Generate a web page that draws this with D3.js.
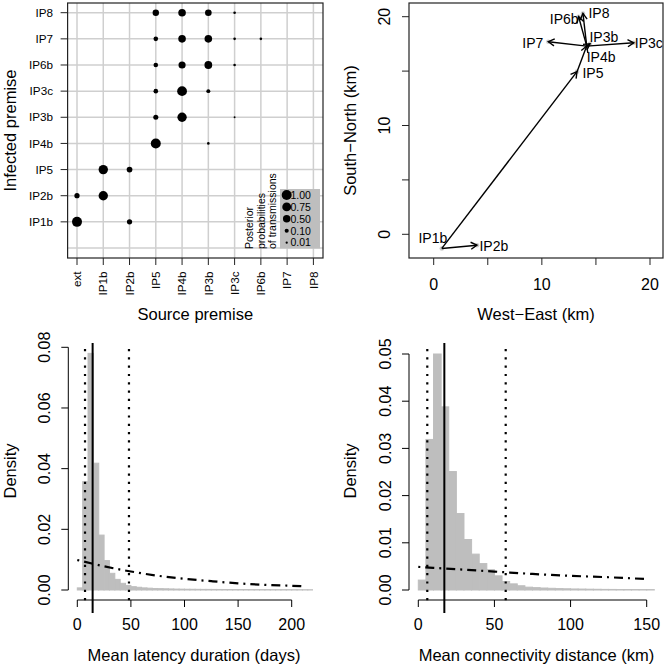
<!DOCTYPE html>
<html><head><meta charset="utf-8">
<script src="https://cdn.jsdelivr.net/npm/d3@7"></script>
<style>
html,body{margin:0;padding:0;background:#fff;}
svg{display:block;font-family:"Liberation Sans",Arial,Helvetica,sans-serif;}
</style></head>
<body>
<script>
// ---------- Panel A: transmission matrix ----------
const sourceCats = ["ext","IP1b","IP2b","IP5","IP4b","IP3b","IP3c","IP6b","IP7","IP8"];
const infectedCats = ["","IP1b","IP2b","IP5","IP4b","IP3b","IP3c","IP6b","IP7","IP8"];
// [infected, source, posterior probability]
const transmissions = [
  ["IP1b","ext",1.0],["IP1b","IP2b",0.2],
  ["IP2b","ext",0.2],["IP2b","IP1b",0.86],
  ["IP5","IP1b",0.86],["IP5","IP2b",0.25],
  ["IP4b","IP5",1.0],["IP4b","IP3b",0.02],
  ["IP3b","IP5",0.18],["IP3b","IP4b",0.85],["IP3b","IP3c",0.004],
  ["IP3c","IP5",0.14],["IP3c","IP4b",0.95],["IP3c","IP3b",0.09],
  ["IP6b","IP5",0.14],["IP6b","IP4b",0.45],["IP6b","IP3b",0.55],["IP6b","IP3c",0.02],
  ["IP7","IP5",0.14],["IP7","IP4b",0.52],["IP7","IP3b",0.52],["IP7","IP3c",0.02],["IP7","IP6b",0.02],
  ["IP8","IP5",0.34],["IP8","IP4b",0.52],["IP8","IP3b",0.37],["IP8","IP3c",0.02]
];
const legendProbs = [1.00,0.75,0.50,0.10,0.01];
const legendTitle = ["Posterior","probabilities","of transmissions"];

// ---------- Panel B: map of premises ----------
const premises = ["IP1b","IP2b","IP5","IP4b","IP3b","IP3c","IP7","IP6b","IP8"];
const eastKm  = [0.75, 4.0, 13.25, 14.15, 14.45, 18.5, 10.6, 13.4, 13.8];
const northKm = [-1.3, -1.0, 14.95, 17.3, 17.5, 17.6, 17.7, 20.0, 20.3];
const transmissionArrows = [
  ["IP1b","IP2b"],["IP1b","IP5"],["IP5","IP4b"],["IP4b","IP3b"],
  ["IP4b","IP3c"],["IP4b","IP7"],["IP4b","IP6b"],["IP4b","IP8"]
];
const mapTicks = [0,5,10,15,20];
const mapTickLabels = [0,10,20];

// ---------- Panel C: mean latency duration ----------
const latencyBinWidth = 5;
const latencyDensity = [0.0007,0.0357,0.078,0.0418,0.0181,0.0097,0.0055,0.0035,0.0022,0.0015,
  0.0011,0.0009,0.0007,0.0006,0.0005,0.00045,0.0004,0.00035,0.0003,0.00028,
  0.00025,0.00024,0.00022,0.0002,0.0002,0.00019,0.00018,0.00017,0.00016,0.00015,
  0.00015,0.00014,0.00013,0.00013,0.00012,0.00012,0.00011,0.00011,0.0001,0.0001,
  0.0001,0.00009,0.00009,0.00008];
const latencyPriorX = [0,25,50,75,100,125,150,175,200,213];
const latencyPriorY = [0.0099,0.0078,0.0061,0.0047,0.0037,0.0029,0.0022,0.0017,0.0014,0.0012];
const latencyMedian = 14.3;
const latencyCI = [7.2,48.2];
const latencyXTicks = [0,50,100,150,200];
const latencyYTicks = [0,0.02,0.04,0.06,0.08];

// ---------- Panel D: mean connectivity distance ----------
const connBinWidth = 5;
const connDensity = [0.0021,0.0319,0.050,0.0388,0.0251,0.0162,0.0107,0.0076,0.0056,0.0043,
  0.0030,0.0018,0.0013,0.0009,0.0006,0.0005,0.00042,0.00036,0.0003,0.00026,
  0.00022,0.0002,0.00017,0.00015,0.00013,0.00012,0.0001,0.0001,0.00009,0.00008,0.00008];
const connPriorX = [0,25,50,75,100,125,151];
const connPriorY = [0.0049,0.0044,0.0039,0.0034,0.0030,0.0027,0.0023];
const connMedian = 17.1;
const connCI = [5.9,57.4];
const connXTicks = [0,50,100,150];
const connYTicks = [0,0.01,0.02,0.03,0.04,0.05];

// =====================================================
const W = 667, H = 669;
const FONT_TICK = 16, FONT_TITLE = 16.5;
const svg = d3.select("body").append("svg").attr("width",W).attr("height",H);
svg.append("rect").attr("width",W).attr("height",H).attr("fill","#fff");

function fmt2(v){ return v.toFixed(2); }

// ---------------- Panel A ----------------
(function(){
  const g = svg.append("g");
  const box = {x0:67.6, x1:323, y0:3, y1:258};
  const x = d3.scaleLinear().domain([0, sourceCats.length-1]).range([77, 313.4]);
  const y = d3.scaleLinear().domain([0, infectedCats.length-1]).range([248, 12.7]);
  const r = p => 0.7 + 4.3*Math.sqrt(p);

  g.selectAll(".vg").data(sourceCats).join("line")
    .attr("x1",(d,i)=>x(i)).attr("x2",(d,i)=>x(i)).attr("y1",box.y0).attr("y2",box.y1)
    .attr("stroke","#cfcfcf").attr("stroke-width",1.5);
  g.selectAll(".hg").data(infectedCats).join("line")
    .attr("y1",(d,i)=>y(i)).attr("y2",(d,i)=>y(i)).attr("x1",box.x0).attr("x2",box.x1)
    .attr("stroke","#cfcfcf").attr("stroke-width",1.5);

  const lg = g.append("g");
  lg.append("rect").attr("x",280).attr("y",189).attr("width",40).attr("height",59.5).attr("fill","#bebebe");
  const ly = d3.scaleLinear().domain([0, legendProbs.length-1]).range([195, 242.7]);
  lg.selectAll("circle").data(legendProbs).join("circle")
    .attr("cx",286.7).attr("cy",(d,i)=>ly(i)).attr("r",d=>r(d)).attr("fill","#000");
  lg.selectAll("text.lv").data(legendProbs).join("text")
    .attr("x",290.5).attr("y",(d,i)=>ly(i)).attr("dy","0.36em")
    .attr("font-size",10.5).text(d=>fmt2(d));
  lg.selectAll("text.lt").data(legendTitle).join("text")
    .attr("transform",(d,i)=>`translate(${253+i*11.5},249) rotate(-90)`)
    .attr("font-size",10.5).attr("text-anchor","start").text(d=>d);

  g.selectAll(".pt").data(transmissions).join("circle")
    .attr("cx",d=>x(sourceCats.indexOf(d[1])))
    .attr("cy",d=>y(infectedCats.indexOf(d[0])))
    .attr("r",d=>r(d[2])).attr("fill","#000");

  g.append("rect").attr("x",box.x0).attr("y",box.y0).attr("width",box.x1-box.x0).attr("height",box.y1-box.y0)
    .attr("fill","none").attr("stroke","#222").attr("stroke-width",1.2);

  const ylab = infectedCats.map((d,i)=>({d,i})).filter(o=>o.d!=="");
  g.selectAll(".yt").data(ylab).join("line")
    .attr("x1",box.x0).attr("x2",box.x0-7).attr("y1",o=>y(o.i)).attr("y2",o=>y(o.i))
    .attr("stroke","#222").attr("stroke-width",1);
  g.selectAll(".yl").data(ylab).join("text")
    .attr("x",53).attr("y",o=>y(o.i)).attr("dy","0.36em").attr("text-anchor","end")
    .attr("font-size",11.7).text(o=>o.d);
  g.selectAll(".xt").data(sourceCats).join("line")
    .attr("x1",(d,i)=>x(i)).attr("x2",(d,i)=>x(i)).attr("y1",box.y1).attr("y2",box.y1+7)
    .attr("stroke","#222").attr("stroke-width",1);
  g.selectAll(".xl").data(sourceCats).join("text")
    .attr("transform",(d,i)=>`translate(${x(i)},271.5) rotate(-90)`)
    .attr("dy","0.36em").attr("text-anchor","end").attr("font-size",11.7).text(d=>d);

  g.append("text").attr("x",(box.x0+box.x1)/2).attr("y",320).attr("text-anchor","middle")
    .attr("font-size",FONT_TITLE).text("Source premise");
  g.append("text").attr("transform",`translate(15.5,${(box.y0+box.y1)/2}) rotate(-90)`)
    .attr("text-anchor","middle").attr("font-size",FONT_TITLE).text("Infected premise");
})();

// ---------------- Panel B ----------------
(function(){
  const g = svg.append("g");
  const box = {x0:409, x1:663, y0:3, y1:258};
  const x = d3.scaleLinear().domain([0,20]).range([433.7,650]);
  const y = d3.scaleLinear().domain([0,20]).range([234.3,16.7]);
  const pos = {};
  premises.forEach((p,i)=>pos[p]=[x(eastKm[i]), y(northKm[i])]);
  const labelLayout = {
    IP1b:{dx:5.5,dy:-10,a:"end"}, IP2b:{dx:2.5,dy:0.5,a:"start"}, IP5:{dx:5.5,dy:1,a:"start"},
    IP4b:{dx:0,dy:10.5,a:"start"}, IP3b:{dx:-0.5,dy:-7,a:"start"}, IP3c:{dx:1,dy:0,a:"start"},
    IP7:{dx:-5,dy:1,a:"end"}, IP6b:{dx:0,dy:2.5,a:"end"}, IP8:{dx:5.5,dy:0,a:"start"}
  };

  g.append("rect").attr("x",box.x0).attr("y",box.y0).attr("width",box.x1-box.x0).attr("height",box.y1-box.y0)
    .attr("fill","none").attr("stroke","#222").attr("stroke-width",1.2);
  g.selectAll(".xt").data(mapTicks).join("line")
    .attr("x1",d=>x(d)).attr("x2",d=>x(d)).attr("y1",box.y1).attr("y2",box.y1+7).attr("stroke","#222");
  g.selectAll(".xl").data(mapTickLabels).join("text")
    .attr("x",d=>x(d)).attr("y",290).attr("text-anchor","middle").attr("font-size",FONT_TICK).text(d=>d);
  g.selectAll(".yt").data(mapTicks).join("line")
    .attr("y1",d=>y(d)).attr("y2",d=>y(d)).attr("x1",box.x0).attr("x2",box.x0-7).attr("stroke","#222");
  g.selectAll(".yl").data(mapTickLabels).join("text")
    .attr("transform",d=>`translate(390,${y(d)}) rotate(-90)`).attr("text-anchor","middle")
    .attr("font-size",FONT_TICK).text(d=>d);

  g.selectAll(".gp").data(premises).join("circle")
    .attr("cx",p=>pos[p][0]).attr("cy",p=>pos[p][1]).attr("r",2.3).attr("fill","#cccccc");

  const L = 7, ang = Math.PI/6;
  transmissionArrows.forEach(([a,b])=>{
    const [x1,y1]=pos[a],[x2,y2]=pos[b];
    g.append("line").attr("x1",x1).attr("y1",y1).attr("x2",x2).attr("y2",y2)
      .attr("stroke","#000").attr("stroke-width",1.4);
    const th = Math.atan2(y2-y1,x2-x1);
    const p1=[x2-L*Math.cos(th-ang), y2-L*Math.sin(th-ang)];
    const p2=[x2-L*Math.cos(th+ang), y2-L*Math.sin(th+ang)];
    g.append("path").attr("d",`M${p1[0]},${p1[1]}L${x2},${y2}L${p2[0]},${p2[1]}`)
      .attr("fill","none").attr("stroke","#000").attr("stroke-width",1.4);
  });

  g.selectAll(".lab").data(premises).join("text")
    .attr("x",p=>pos[p][0]+labelLayout[p].dx).attr("y",p=>pos[p][1]+labelLayout[p].dy)
    .attr("dy","0.36em").attr("text-anchor",p=>labelLayout[p].a).attr("font-size",14).text(p=>p);

  g.append("text").attr("x",(box.x0+box.x1)/2).attr("y",320).attr("text-anchor","middle")
    .attr("font-size",FONT_TITLE).text("West\u2212East (km)");
  g.append("text").attr("transform",`translate(356,${(box.y0+box.y1)/2}) rotate(-90)`)
    .attr("text-anchor","middle").attr("font-size",FONT_TITLE).text("South\u2212North (km)");
})();

// ---------------- Histogram panels ----------------
function histPanel(opt){
  const g = svg.append("g");
  const x = d3.scaleLinear().domain([0,opt.xMax]).range(opt.xr);
  const y = d3.scaleLinear().domain([0,opt.yMax]).range([590, opt.yTop]);
  const yAxisX = opt.yAxisX, xAxisY = 600;
  const clipId = "clip"+opt.id;
  g.append("clipPath").attr("id",clipId).append("rect")
    .attr("x",yAxisX).attr("y",340).attr("width",opt.clipRight-yAxisX).attr("height",280);
  const pg = g.append("g").attr("clip-path",`url(#${clipId})`);
  pg.selectAll("rect.bar").data(opt.density).join("rect")
    .attr("x",(d,i)=>x(i*opt.bw)).attr("width",(d,i)=>x((i+1)*opt.bw)-x(i*opt.bw))
    .attr("y",d=>y(d)).attr("height",d=>y(0)-y(d))
    .attr("fill","#bebebe").attr("stroke","#bebebe").attr("stroke-width",1);
  pg.append("path").datum(opt.priorX.map((v,i)=>[v,opt.priorY[i]]))
    .attr("d",d3.line().x(d=>x(d[0])).y(d=>y(d[1])).curve(d3.curveMonotoneX))
    .attr("fill","none").attr("stroke","#000").attr("stroke-width",2.2)
    .attr("stroke-dasharray","2,5,9,5");
  g.selectAll("line.ci").data(opt.ci).join("line")
    .attr("x1",d=>x(d)).attr("x2",d=>x(d)).attr("y1",349).attr("y2",601)
    .attr("stroke","#000").attr("stroke-width",2.2).attr("stroke-dasharray","2.2,6.1");
  g.append("line").attr("x1",x(opt.median)).attr("x2",x(opt.median)).attr("y1",343).attr("y2",613)
    .attr("stroke","#000").attr("stroke-width",2);

  g.append("line").attr("x1",x(opt.xTicks[0])).attr("x2",x(opt.xTicks[opt.xTicks.length-1]))
    .attr("y1",xAxisY).attr("y2",xAxisY).attr("stroke","#000");
  g.selectAll(".xt").data(opt.xTicks).join("line")
    .attr("x1",d=>x(d)).attr("x2",d=>x(d)).attr("y1",xAxisY).attr("y2",xAxisY+7).attr("stroke","#000");
  g.selectAll(".xl").data(opt.xTicks).join("text")
    .attr("x",d=>x(d)).attr("y",630).attr("text-anchor","middle").attr("font-size",FONT_TICK).text(d=>d);
  g.append("line").attr("x1",yAxisX).attr("x2",yAxisX)
    .attr("y1",y(opt.yTicks[0])).attr("y2",y(opt.yTicks[opt.yTicks.length-1])).attr("stroke","#000");
  g.selectAll(".yt").data(opt.yTicks).join("line")
    .attr("x1",yAxisX).attr("x2",yAxisX-7).attr("y1",d=>y(d)).attr("y2",d=>y(d)).attr("stroke","#000");
  g.selectAll(".yl").data(opt.yTicks).join("text")
    .attr("transform",d=>`translate(${yAxisX-18.3},${y(d)}) rotate(-90)`).attr("text-anchor","middle")
    .attr("font-size",FONT_TICK).text(d=>d.toFixed(2));
  g.append("text").attr("x",opt.titleX).attr("y",661).attr("text-anchor","middle")
    .attr("font-size",FONT_TITLE).text(opt.xTitle);
  g.append("text").attr("transform",`translate(${yAxisX-52.8},471) rotate(-90)`)
    .attr("text-anchor","middle").attr("font-size",FONT_TITLE).text("Density");
}

histPanel({id:"c", xMax:200, xr:[77.3,291.7], yMax:0.08, yTop:347.3, yAxisX:68.3, clipRight:313,
  bw:latencyBinWidth, density:latencyDensity, priorX:latencyPriorX, priorY:latencyPriorY,
  median:latencyMedian, ci:latencyCI, xTicks:latencyXTicks, yTicks:latencyYTicks,
  titleX:194, xTitle:"Mean latency duration (days)"});
histPanel({id:"d", xMax:150, xr:[418.3,646.7], yMax:0.05, yTop:354, yAxisX:409, clipRight:656,
  bw:connBinWidth, density:connDensity, priorX:connPriorX, priorY:connPriorY,
  median:connMedian, ci:connCI, xTicks:connXTicks, yTicks:connYTicks,
  titleX:536.5, xTitle:"Mean connectivity distance (km)"});
</script>
</body></html>
